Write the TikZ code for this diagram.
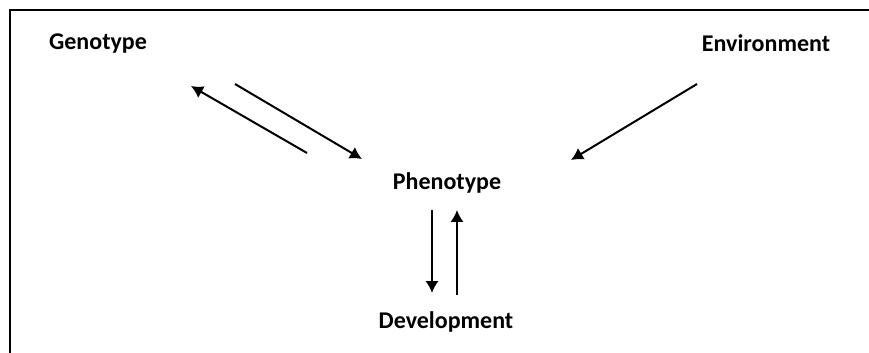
\documentclass[tikz,border=0pt]{standalone}
\usepackage{fontspec}
\setmainfont{Carlito}
\usetikzlibrary{arrows.meta}
\tikzset{
  lbl/.style={font=\fontsize{18}{20}\selectfont\bfseries, inner sep=0pt},
  arr/.style={line width=1.5pt,-{Latex[length=9pt,width=10pt]}},
}
\begin{document}
\begin{tikzpicture}[x=0.75pt,y=-0.75pt]
            \useasboundingbox (0,0) rectangle (869,353);
            \draw[line width=1.1pt] (869,10) -- (10,10) -- (10,353);

            \node[lbl] (geno)  at ( 98, 44) {Genotype};
            \node[lbl] (env)   at (766, 43) {Environment};
            \node[lbl] (pheno) at (447,183) {Phenotype};
            \node[lbl] (dev)   at (446,322) {Development};

            \draw[arr] ([shift={(137,40)}]geno.center) -- ([shift={(-85,-24)}]pheno.center);
            \draw[arr] ([shift={(-140,-30)}]pheno.center) -- ([shift={(93,42)}]geno.center);
            \draw[arr] ([shift={(-69,41)}]env.center) -- ([shift={(124,-23)}]pheno.center);

            \draw[arr] ([shift={(-15,27)}]pheno.center) -- ([shift={(-14,-29)}]dev.center);
            \draw[arr] ([shift={(11,-27)}]dev.center) -- ([shift={(10,27)}]pheno.center);
        \end{tikzpicture}
\end{document}
